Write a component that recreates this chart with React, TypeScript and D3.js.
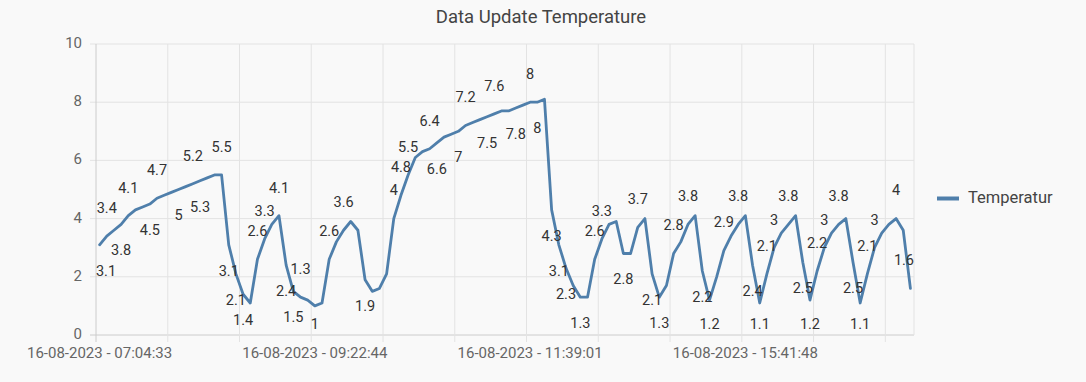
import React from "react";
import * as d3 from "d3";

const temps: number[] = [
  3.1, 3.4, 3.6, 3.8, 4.1, 4.3, 4.4, 4.5, 4.7, 4.8,
  4.9, 5.0, 5.1, 5.2, 5.3, 5.4, 5.5, 5.5, 3.1, 2.1,
  1.4, 1.1, 2.6, 3.3, 3.8, 4.1, 2.4, 1.5, 1.3, 1.2,
  1.0, 1.1, 2.6, 3.2, 3.6, 3.9, 3.6, 1.9, 1.5, 1.6,
  2.1, 4.0, 4.8, 5.5, 6.1, 6.3, 6.4, 6.6, 6.8, 6.9,
  7.0, 7.2, 7.3, 7.4, 7.5, 7.6, 7.7, 7.7, 7.8, 7.9,
  8.0, 8.0, 8.1, 4.3, 3.1, 2.3, 1.7, 1.3, 1.3, 2.6,
  3.3, 3.8, 3.9, 2.8, 2.8, 3.7, 4.0, 2.1, 1.3, 1.7,
  2.8, 3.2, 3.8, 4.1, 2.2, 1.2, 2.0, 2.9, 3.4, 3.8,
  4.1, 2.4, 1.1, 2.1, 3.0, 3.5, 3.8, 4.1, 2.5, 1.2,
  2.2, 3.0, 3.5, 3.8, 4.0, 2.5, 1.1, 2.1, 3.0, 3.5,
  3.8, 4.0, 3.6, 1.6,
];

// indices of points whose value label is visible, and the side (1 = above, -1 = below)
const labelIdx: number[] = [
  0, 1, 3, 4, 7, 8, 11, 13, 14, 17, 18, 19, 20, 22, 23, 25, 26, 27, 28, 30,
  32, 34, 37, 41, 42, 43, 46, 47, 50, 51, 54, 55, 58, 60, 61, 63, 64, 65, 67, 69,
  70, 73, 75, 77, 78, 80, 82, 84, 85, 87, 89, 91, 92, 93, 94, 96, 98, 99, 100, 101,
  103, 105, 106, 107, 108, 111, 113,
];
const labelSide: number[] = [
  -1, 1, -1, 1, -1, 1, -1, 1, -1, 1, -1, -1, -1, 1, 1, 1, -1, -1, 1, -1,
  1, 1, -1, 1, 1, 1, 1, -1, -1, 1, -1, 1, -1, 1, -1, -1, -1, -1, -1, 1,
  1, -1, 1, -1, -1, 1, 1, -1, -1, 1, 1, -1, -1, 1, 1, 1, -1, -1, 1, 1,
  1, -1, -1, 1, 1, 1, 1,
];

const xTickIdx: number[] = [0, 30, 60, 90];
const xTickText: string[] = [
  "16-08-2023 - 07:04:33",
  "16-08-2023 - 09:22:44",
  "16-08-2023 - 11:39:01",
  "16-08-2023 - 15:41:48",
];
const yTicks: number[] = [0, 2, 4, 6, 8, 10];
const seriesName = "Temperatur";
const title = "Data Update Temperature";

const W = 1086;
const H = 382;
const M = { left: 96, right: 914, top: 44, bottom: 335 };
const LINE = "#4f7fab";
const FONT = "Roboto, 'Noto Sans', sans-serif";
const LABEL_SIZE = 14.5;

function textW(s: string): number {
  let w = 0;
  for (const c of s) w += c === "." ? 0.26 * LABEL_SIZE : 0.562 * LABEL_SIZE;
  return w;
}

export default function App() {
  const x = d3
    .scaleBand<number>()
    .domain(d3.range(temps.length))
    .range([M.left, M.right])
    .paddingInner(0)
    .paddingOuter(0);
  const px = (i: number) => (x(i) as number) + x.bandwidth() / 2;
  const y = d3.scaleLinear().domain([0, 10]).range([M.bottom, M.top]);

  const line = d3
    .line<number>()
    .x((_, i) => px(i))
    .y((d) => y(d));

  const gridIdx = d3.range(0, temps.length, 10);

  return (
    <svg
      width={W}
      height={H}
      style={{ position: "absolute", left: 0, top: 0 }}
      fontFamily={FONT}
    >
      <rect x={0} y={0} width={W} height={H} fill="#f9f9f9" />
      <text x={541} y={18} textAnchor="middle" dominantBaseline="middle" fontSize={18.5} fill="#444">
        {title}
      </text>

      {/* horizontal grid */}
      {yTicks.map((t) => (
        <g key={"y" + t}>
          <line x1={M.left - 6} x2={M.right} y1={y(t)} y2={y(t)} stroke={t === 0 ? "#cccccc" : "#e3e3e3"} strokeWidth={1} />
          <text x={82} y={y(t)} textAnchor="end" dominantBaseline="middle" fontSize={15} fill="#666">
            {t}
          </text>
        </g>
      ))}

      {/* vertical grid */}
      {gridIdx.map((i) => (
        <line key={"g" + i} x1={x(i)} x2={x(i)} y1={M.top} y2={M.bottom + 7} stroke={i === 0 ? "#cccccc" : "#e3e3e3"} strokeWidth={1} />
      ))}
      <line x1={M.right} x2={M.right} y1={M.top} y2={M.bottom} stroke="#e3e3e3" strokeWidth={1} />

      {xTickIdx.map((i, k) => (
        <text key={"xt" + i} x={px(i)} y={354} textAnchor="middle" dominantBaseline="middle" fontSize={15} fill="#666">
          {xTickText[k]}
        </text>
      ))}

      <path d={line(temps) || ""} fill="none" stroke={LINE} strokeWidth={2.8} strokeLinejoin="round" strokeLinecap="round" />

      {labelIdx.map((i, k) => {
        const v = temps[i];
        const s = String(v);
        const w = textW(s);
        let cx = px(i);
        cx = Math.max(M.left + w / 2, Math.min(M.right - w / 2, cx));
        let cy = y(v) - labelSide[k] * 27;
        cy = Math.max(M.top + 10, Math.min(M.bottom - 10, cy));
        return (
          <text key={"l" + i} x={cx} y={cy} textAnchor="middle" dominantBaseline="middle" fontSize={LABEL_SIZE} fill="#333">
            {s}
          </text>
        );
      })}

      {/* legend */}
      <line x1={937} x2={959} y1={198.5} y2={198.5} stroke={LINE} strokeWidth={4} />
      <text x={968} y={199} dominantBaseline="middle" fontSize={16.5} fill="#444">
        {seriesName}
      </text>
    </svg>
  );
}
